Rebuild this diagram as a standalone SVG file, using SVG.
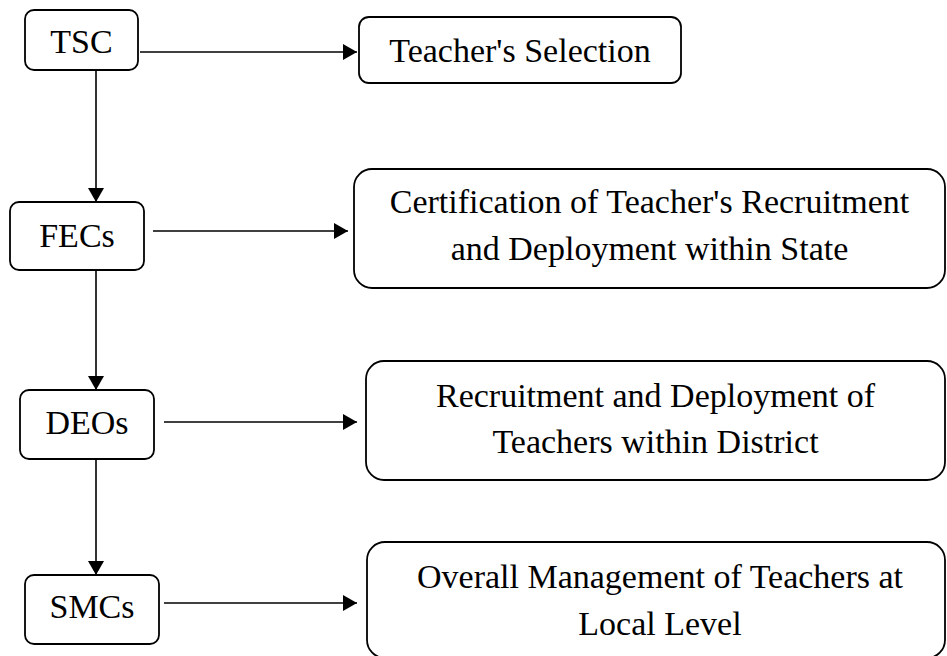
<svg xmlns="http://www.w3.org/2000/svg" width="947" height="656" viewBox="0 0 947 656">
<defs>
<style>
.box{fill:#fff;stroke:#000;stroke-width:1.8}
.t{font-family:"Liberation Serif","Times New Roman",serif;font-size:34px;fill:#000;text-anchor:middle}
.ln{stroke:#000;stroke-width:1.6;fill:none}
</style>
<marker id="ah" viewBox="0 0 14 16" refX="14" refY="8" markerWidth="14" markerHeight="16" markerUnits="userSpaceOnUse" orient="auto">
<path d="M0,0 L14,8 L0,16 Z" fill="#000"/>
</marker>
</defs>
<rect width="947" height="656" fill="#fff"/>
<g id="connectors">
<line class="ln" x1="96" y1="70" x2="96" y2="202" stroke-width="2.2" marker-end="url(#ah)"/>
<line class="ln" x1="96" y1="270" x2="96" y2="390" marker-end="url(#ah)"/>
<line class="ln" x1="96" y1="459" x2="96" y2="575" marker-end="url(#ah)"/>
<line class="ln" x1="140" y1="52" x2="357" y2="52" marker-end="url(#ah)"/>
<line class="ln" x1="153" y1="231" x2="348" y2="231" marker-end="url(#ah)"/>
<line class="ln" x1="164" y1="422" x2="357" y2="422" marker-end="url(#ah)"/>
<line class="ln" x1="164" y1="603" x2="357" y2="603" marker-end="url(#ah)"/>
</g>
<g id="tsc"><rect class="box" x="25" y="10" width="113" height="60" rx="9"/><text class="t" x="81.5" y="53">TSC</text></g>
<g id="fecs"><rect class="box" x="10" y="202" width="134" height="68" rx="9"/><text class="t" x="77" y="247">FECs</text></g>
<g id="deos"><rect class="box" x="20" y="390" width="134" height="69" rx="9"/><text class="t" x="87" y="434">DEOs</text></g>
<g id="smcs"><rect class="box" x="25" y="575" width="134" height="69" rx="9"/><text class="t" x="92" y="618">SMCs</text></g>
<g id="selection"><rect class="box" x="359" y="17" width="322" height="66" rx="10"/><text class="t" x="520" y="62">Teacher's Selection</text></g>
<g id="certification"><rect class="box" x="354" y="169" width="591" height="119" rx="18"/><text class="t" x="649.5" y="213">Certification of Teacher's Recruitment</text><text class="t" x="649.5" y="260">and Deployment within State</text></g>
<g id="recruitment"><rect class="box" x="366" y="361" width="579" height="119" rx="18"/><text class="t" x="655.5" y="407">Recruitment and Deployment of</text><text class="t" x="655.5" y="453">Teachers within District</text></g>
<g id="management"><rect class="box" x="367" y="542" width="578" height="116" rx="18"/><text class="t" x="660" y="588">Overall Management of Teachers at</text><text class="t" x="660" y="635">Local Level</text></g>
</svg>
